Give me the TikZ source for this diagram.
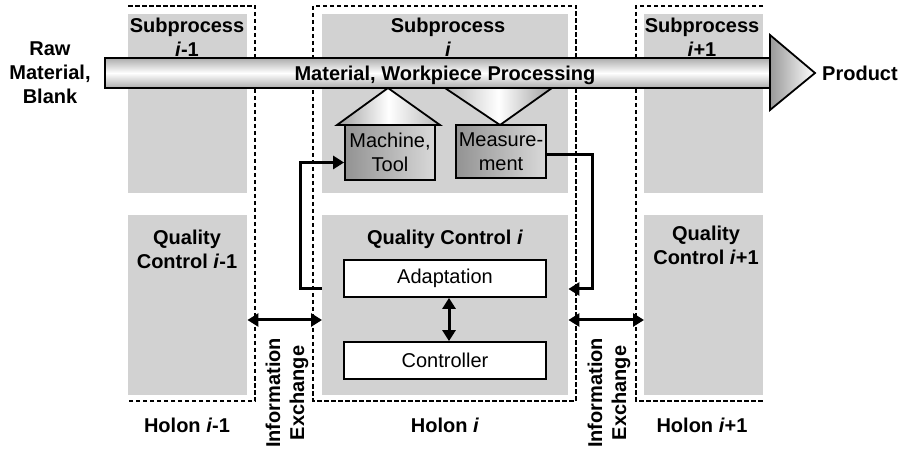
\documentclass[tikz,border=0pt]{standalone}
\usepackage{fontspec}
\setmainfont{Liberation Sans}
\usetikzlibrary{arrows.meta, positioning, calc}
\definecolor{areagray}{HTML}{D2D2D2}
\newcommand{\diafont}{\fontsize{20}{24}\selectfont}
\tikzset{holon/.style={line width=1.8pt, black, dash pattern=on 4.5pt off 2.5pt}}
\tikzset{area/.style={fill=areagray, draw=none, inner sep=0pt, anchor=north west}}
\tikzset{lbl/.style={font=\diafont\bfseries, align=center, inner sep=0pt}}
\tikzset{txt/.style={font=\diafont, align=center, inner sep=0pt}}
\tikzset{link/.style={line width=3pt, -{Triangle[length=11pt, width=13pt]}}}
\tikzset{bilink/.style={line width=3pt, {Triangle[length=11pt, width=13pt]}-{Triangle[length=11pt, width=13pt]}}}
\tikzset{block/.style={txt, draw, line width=1.8pt, fill=white, minimum width=202pt, minimum height=37pt}}
\tikzset{device/.style={txt, draw, line width=1.8pt, left color=gray!85, right color=gray!30, minimum width=90pt}}
\tikzset{shell/.style={draw, line width=1.8pt}}

\begin{document}
\begin{tikzpicture}[x=1pt, y=-1pt]
		\useasboundingbox (0,0) rectangle (906,449);

		% Coordinates
		\coordinate (fbl) at (300,289);
		\coordinate (fbr) at (592,289);
		\coordinate (xrow) at (0,320);

		% Areas
		\node[area, minimum width=119pt, minimum height=179pt] (sub1) at (128,14) {};
		\node[area, minimum width=119pt, minimum height=180pt] (qc1) at (128,215) {};
		\node[area, minimum width=246pt, minimum height=179pt] (sub2) at (322,14) {};
		\node[area, minimum width=246pt, minimum height=180pt] (qc2) at (322,215) {};
		\node[area, minimum width=119pt, minimum height=179pt] (sub3) at (644,14) {};
		\node[area, minimum width=119pt, minimum height=180pt] (qc3) at (644,215) {};

		% Holons
		\draw[holon] (128,6) -- (255,6) -- (255,401) -- (128,401);
		\draw[holon] (313,6) rectangle (576,401);
		\draw[holon] (763,6) -- (636,6) -- (636,401) -- (763,401);

		% Process flow
		\shade[shell, top color=gray!65, bottom color=gray!65, middle color=white] (105,58) rectangle (770,88);
		\shade[shell, left color=gray!80, right color=white] (770,35) -- (815,73) -- (770,110) -- cycle;
		\node[lbl] (flow) at (445,75) {Material, Workpiece Processing};
		\shade[shell, left color=gray!75, right color=gray!55, middle color=white] (337,125) -- (388,88) -- (440,125) -- cycle;
		\shade[shell, left color=gray!55, right color=gray!75, middle color=white] (445,88) -- (552,88) -- (500,125) -- cycle;
		\node[device, minimum height=55pt] (machine) at (390,152.5) {Machine,\\Tool};
		\node[device, minimum height=53pt] (measure) at (501,151.5) {Measure-\\ment};

		% Quality control
		\node[block] (adapt) at (445,278.5) {Adaptation};
		\node[block] (ctrl) at (445,360.5) {Controller};
		\draw[bilink] ([xshift=4pt]adapt.south) -- ([xshift=4pt]ctrl.north);
		\draw[link] (qc2.west |- fbl) -- (fbl) |- ([yshift=-10pt]machine.west);
		\draw[link] ([yshift=-3.5pt]measure.east) -| (fbr) -- (qc2.east |- fbr);
		\draw[bilink] (qc1.east |- xrow) -- (qc2.west |- xrow);
		\draw[bilink] (qc2.east |- xrow) -- (qc3.west |- xrow);

		% Labels
		\node[lbl] (raw) at (50,73) {Raw\\Material,\\Blank};
		\node[lbl, anchor=west] (product) at (822,73) {Product};
		\node[lbl] (sub1t) at (187,37) {Subprocess\\\textit{i}-1};
		\node[lbl] (sub2t) at (448,37) {Subprocess\\\textit{i}};
		\node[lbl] (sub3t) at (702,37) {Subprocess\\\textit{i}+1};
		\node[lbl] (qc1t) at (187,249) {Quality\\Control \textit{i}-1};
		\node[lbl] (qc2t) at (445,239) {Quality Control \textit{i}};
		\node[lbl] (qc3t) at (706,245) {Quality\\Control \textit{i}+1};
		\node[lbl] (h1) at (187,425) {Holon \textit{i}-1};
		\node[lbl] (h2) at (445,425) {Holon \textit{i}};
		\node[lbl] (h3) at (702,425) {Holon \textit{i}+1};
		\node[lbl, rotate=90] (ie1) at (287,393) {Information\\Exchange};
		\node[lbl, rotate=90] (ie2) at (609,393) {Information\\Exchange};
	\end{tikzpicture}
\end{document}
